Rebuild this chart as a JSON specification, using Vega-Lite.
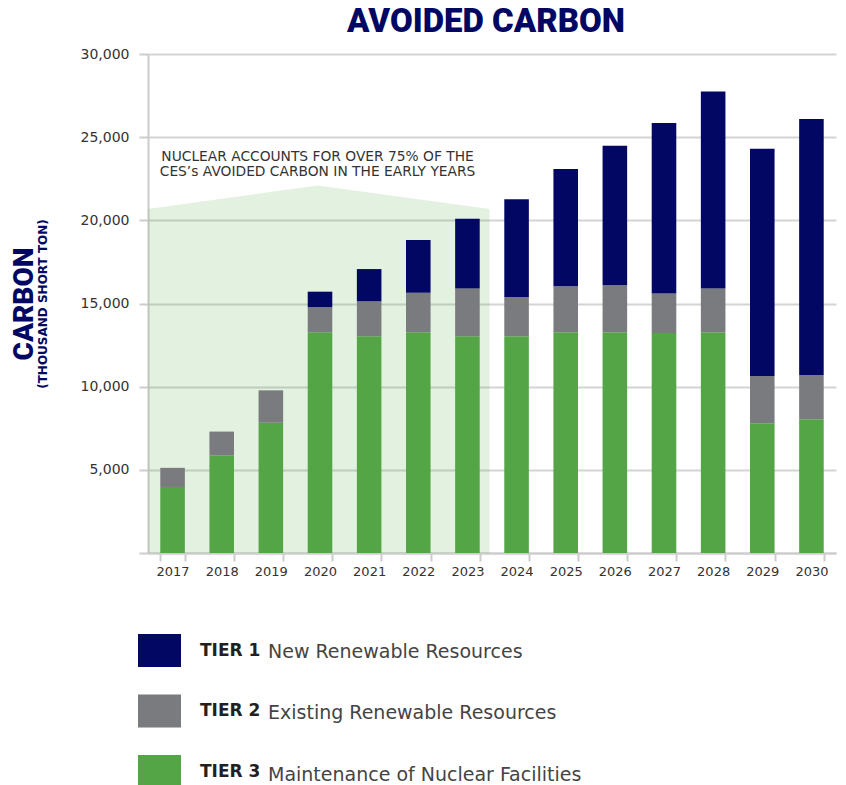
{
  "$schema": "https://vega.github.io/schema/vega-lite/v6.json",
  "width": 688,
  "height": 499,
  "padding": {"left": 10, "top": 6, "right": 5, "bottom": 0},
  "title": {"text": "AVOIDED CARBON", "font": "Roboto", "fontWeight": 900, "fontSize": 33, "color": "#020764", "anchor": "middle", "offset": 8, "dx": -6},
  "config": {
    "view": {"stroke": null},
    "axis": {"labelFont": "DejaVu Sans", "labelColor": "#333333", "domainColor": "#cccccc", "tickColor": "#cccccc", "gridColor": "#d4d4d4"}
  },
  "datasets": {
    "bars": [
      {"year": "2017", "tier": "TIER 3", "desc": "Maintenance of Nuclear Facilities", "value": 3970},
      {"year": "2017", "tier": "TIER 2", "desc": "Existing Renewable Resources", "value": 1150},
      {"year": "2018", "tier": "TIER 3", "desc": "Maintenance of Nuclear Facilities", "value": 5850},
      {"year": "2018", "tier": "TIER 2", "desc": "Existing Renewable Resources", "value": 1450},
      {"year": "2019", "tier": "TIER 3", "desc": "Maintenance of Nuclear Facilities", "value": 7830},
      {"year": "2019", "tier": "TIER 2", "desc": "Existing Renewable Resources", "value": 1950},
      {"year": "2020", "tier": "TIER 3", "desc": "Maintenance of Nuclear Facilities", "value": 13270},
      {"year": "2020", "tier": "TIER 2", "desc": "Existing Renewable Resources", "value": 1510},
      {"year": "2020", "tier": "TIER 1", "desc": "New Renewable Resources", "value": 930},
      {"year": "2021", "tier": "TIER 3", "desc": "Maintenance of Nuclear Facilities", "value": 13030},
      {"year": "2021", "tier": "TIER 2", "desc": "Existing Renewable Resources", "value": 2100},
      {"year": "2021", "tier": "TIER 1", "desc": "New Renewable Resources", "value": 1940},
      {"year": "2022", "tier": "TIER 3", "desc": "Maintenance of Nuclear Facilities", "value": 13270},
      {"year": "2022", "tier": "TIER 2", "desc": "Existing Renewable Resources", "value": 2380},
      {"year": "2022", "tier": "TIER 1", "desc": "New Renewable Resources", "value": 3170},
      {"year": "2023", "tier": "TIER 3", "desc": "Maintenance of Nuclear Facilities", "value": 13030},
      {"year": "2023", "tier": "TIER 2", "desc": "Existing Renewable Resources", "value": 2870},
      {"year": "2023", "tier": "TIER 1", "desc": "New Renewable Resources", "value": 4200},
      {"year": "2024", "tier": "TIER 3", "desc": "Maintenance of Nuclear Facilities", "value": 13030},
      {"year": "2024", "tier": "TIER 2", "desc": "Existing Renewable Resources", "value": 2360},
      {"year": "2024", "tier": "TIER 1", "desc": "New Renewable Resources", "value": 5880},
      {"year": "2025", "tier": "TIER 3", "desc": "Maintenance of Nuclear Facilities", "value": 13270},
      {"year": "2025", "tier": "TIER 2", "desc": "Existing Renewable Resources", "value": 2760},
      {"year": "2025", "tier": "TIER 1", "desc": "New Renewable Resources", "value": 7060},
      {"year": "2026", "tier": "TIER 3", "desc": "Maintenance of Nuclear Facilities", "value": 13270},
      {"year": "2026", "tier": "TIER 2", "desc": "Existing Renewable Resources", "value": 2830},
      {"year": "2026", "tier": "TIER 1", "desc": "New Renewable Resources", "value": 8390},
      {"year": "2027", "tier": "TIER 3", "desc": "Maintenance of Nuclear Facilities", "value": 13230},
      {"year": "2027", "tier": "TIER 2", "desc": "Existing Renewable Resources", "value": 2370},
      {"year": "2027", "tier": "TIER 1", "desc": "New Renewable Resources", "value": 10250},
      {"year": "2028", "tier": "TIER 3", "desc": "Maintenance of Nuclear Facilities", "value": 13270},
      {"year": "2028", "tier": "TIER 2", "desc": "Existing Renewable Resources", "value": 2630},
      {"year": "2028", "tier": "TIER 1", "desc": "New Renewable Resources", "value": 11850},
      {"year": "2029", "tier": "TIER 3", "desc": "Maintenance of Nuclear Facilities", "value": 7800},
      {"year": "2029", "tier": "TIER 2", "desc": "Existing Renewable Resources", "value": 2840},
      {"year": "2029", "tier": "TIER 1", "desc": "New Renewable Resources", "value": 13670},
      {"year": "2030", "tier": "TIER 3", "desc": "Maintenance of Nuclear Facilities", "value": 8040},
      {"year": "2030", "tier": "TIER 2", "desc": "Existing Renewable Resources", "value": 2660},
      {"year": "2030", "tier": "TIER 1", "desc": "New Renewable Resources", "value": 15390}
    ],
    "shade": [
      {"pos": 0, "carbon": 20680},
      {"pos": 3.45, "carbon": 22090},
      {"pos": 6.95, "carbon": 20680}
    ],
    "note": [
      {"pos": 3.45, "carbon": 23800, "line": "NUCLEAR ACCOUNTS FOR OVER 75% OF THE"},
      {"pos": 3.45, "carbon": 22900, "line": "CES’s AVOIDED CARBON IN THE EARLY YEARS"}
    ]
  },
  "layer": [
    {
      "layer": [
        {
          "data": {"name": "shade"},
          "mark": {"type": "area", "color": "#53a546", "opacity": 0.16},
          "encoding": {
            "x": {"field": "pos", "type": "quantitative", "scale": {"domain": [0, 14], "nice": false, "zero": false}, "axis": null},
            "y": {"field": "carbon", "type": "quantitative", "scale": {"domain": [0, 30000], "nice": false},
              "axis": {"orient": "left", "offset": 108, "values": [5000, 10000, 15000, 20000, 25000, 30000], "labels": false, "ticks": false, "domain": false, "grid": false, "title": "CARBON", "titleFont": "Roboto", "titleFontWeight": 900, "titleFontSize": 28, "titleColor": "#020764", "titlePadding": 2}}
          }
        },
        {
          "data": {"name": "note"},
          "mark": {"type": "text", "font": "DejaVu Sans", "fontSize": 13.8, "fontWeight": 500, "color": "#333333", "align": "center", "baseline": "middle"},
          "encoding": {
            "x": {"field": "pos", "type": "quantitative", "scale": {"domain": [0, 14], "nice": false, "zero": false}, "axis": null},
            "y": {"field": "carbon", "type": "quantitative", "scale": {"domain": [0, 30000], "nice": false},
              "axis": {"orient": "left", "offset": 108, "values": [5000, 10000, 15000, 20000, 25000, 30000], "labels": false, "ticks": false, "domain": false, "grid": false, "title": "CARBON", "titleFont": "Roboto", "titleFontWeight": 900, "titleFontSize": 28, "titleColor": "#020764", "titlePadding": 2}},
            "text": {"field": "line"}
          }
        }
      ]
    },
    {
      "data": {"name": "bars"},
      "mark": {"type": "bar", "strokeWidth": 0},
      "encoding": {
        "x": {"field": "year", "type": "ordinal", "scale": {"paddingInner": 0.5, "paddingOuter": 0.25},
          "axis": {"title": null, "labelAngle": 0, "tickBand": "extent", "tickSize": 8, "tickWidth": 2, "domainWidth": 2, "labelFontSize": 13, "labelPadding": 4}},
        "y": {"field": "value", "type": "quantitative", "stack": "zero", "scale": {"domain": [0, 30000], "nice": false},
          "axis": {"orient": "left", "values": [0, 5000, 10000, 15000, 20000, 25000, 30000], "labelExpr": "datum.value == 0 ? '' : format(datum.value, ',')", "grid": true, "gridWidth": 2, "tickSize": 9, "tickWidth": 2, "domainWidth": 2, "labelPadding": 10, "labelFontSize": 14, "title": "(THOUSAND SHORT TON)", "titleFont": "DejaVu Sans", "titleFontSize": 12, "titleFontWeight": 600, "titleColor": "#020764", "titlePadding": 31}},
        "color": {"field": "tier", "type": "nominal",
          "scale": {"domain": ["TIER 1", "TIER 2", "TIER 3"], "range": ["#020764", "#7a7b7f", "#53a546"]},
          "legend": {"orient": "none", "legendX": -10, "legendY": 575, "title": null, "padding": 0, "symbolType": "M-1,-0.767L1,-0.767L1,0.767L-1,0.767Z", "symbolSize": 1849, "symbolStrokeWidth": 0, "symbolOpacity": 1, "rowPadding": 22.5, "labelOffset": 19, "labelFont": "DejaVu Sans", "labelFontSize": 17, "labelFontWeight": "bold", "labelColor": "#231f20", "labelLimit": 300}},
        "stroke": {"field": "desc", "type": "nominal",
          "scale": {"domain": ["New Renewable Resources", "Existing Renewable Resources", "Maintenance of Nuclear Facilities"], "range": ["#000000", "#000000", "#000000"]},
          "legend": {"orient": "none", "legendX": 56, "legendY": 575, "title": null, "padding": 0, "symbolType": "M-1,-0.767L1,-0.767L1,0.767L-1,0.767Z", "symbolSize": 1849, "symbolOpacity": 0, "rowPadding": 22.5, "labelOffset": 19, "labelFont": "DejaVu Sans", "labelFontSize": 19, "labelFontWeight": "normal", "labelColor": "#444444", "labelLimit": 400}},
        "order": {"field": "tier", "sort": "descending"}
      }
    }
  ],
  "resolve": {"scale": {"x": "independent", "y": "independent"}}
}
